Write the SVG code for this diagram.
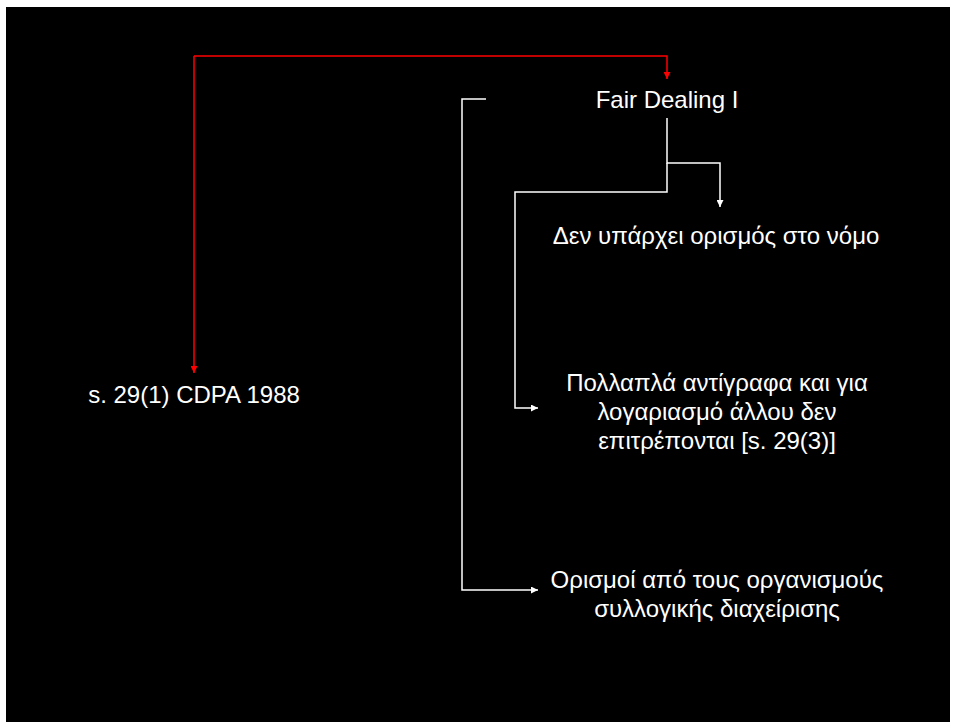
<svg xmlns="http://www.w3.org/2000/svg" width="954" height="722" viewBox="0 0 954 722">
<defs>
<style>
text{font-family:"Liberation Sans",Arial,sans-serif;font-size:24px;fill:#ffffff;text-anchor:middle}
.w{fill:none;stroke:#ffffff;stroke-width:1.5}
.r{fill:none;stroke:#ff0000;stroke-width:1.5}
</style>
<marker id="aw" viewBox="0 0 10 10" refX="10" refY="5" markerWidth="7" markerHeight="7" markerUnits="userSpaceOnUse" orient="auto"><path d="M0,0 L10,5 L0,10 z" fill="#ffffff"/></marker>
<marker id="ar" viewBox="0 0 10 10" refX="10" refY="5" markerWidth="7" markerHeight="7" markerUnits="userSpaceOnUse" orient="auto"><path d="M0,0 L10,5 L0,10 z" fill="#ff0000"/></marker>
</defs>
<rect x="0" y="0" width="954" height="722" fill="#ffffff"/>
<rect x="6" y="7" width="944" height="715" fill="#000000"/>
<g id="connectors">
<path class="r" d="M194,56 H667 V79" marker-end="url(#ar)"/>
<path class="r" d="M194,56 V373" marker-end="url(#ar)"/>
<path class="w" d="M667,118 V163 H720 V207" marker-end="url(#aw)"/>
<path class="w" d="M667,163 V192 H515 V408 H538" marker-end="url(#aw)"/>
<path class="w" d="M486,99 H462 V590 H538" marker-end="url(#aw)"/>
</g>
<g id="fair-dealing"><text x="667" y="108">Fair Dealing I</text></g>
<g id="cdpa"><text x="194" y="403">s. 29(1) CDPA 1988</text></g>
<g id="no-definition"><text x="716" y="244">Δεν υπάρχει ορισμός στο νόμο</text></g>
<g id="multiple-copies"><text x="717" y="391">Πολλαπλά αντίγραφα και για</text><text x="717" y="420">λογαριασμό άλλου δεν</text><text x="717" y="449">επιτρέπονται [s. 29(3)]</text></g>
<g id="collective"><text x="717" y="588">Ορισμοί από τους οργανισμούς</text><text x="717" y="617">συλλογικής διαχείρισης</text></g>
</svg>
